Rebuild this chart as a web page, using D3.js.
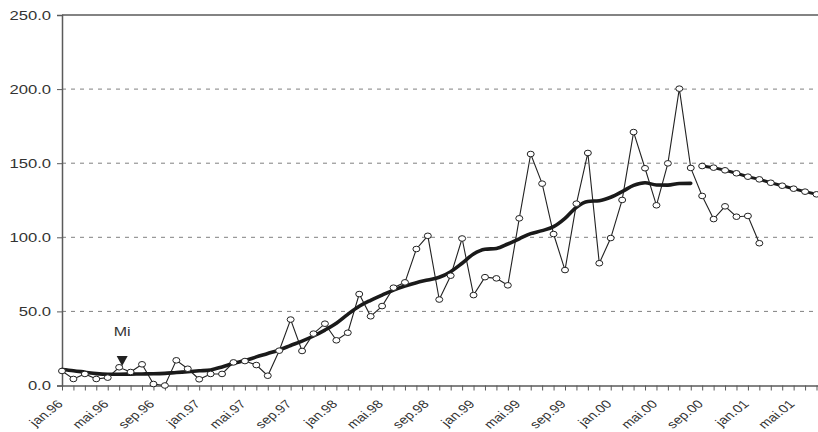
<!DOCTYPE html>
<html>
<head>
<meta charset="utf-8">
<script src="https://cdn.jsdelivr.net/npm/d3@7"></script>
<style>
  html, body { margin: 0; padding: 0; background: #fff; }
  svg { display: block; }
  text { font-family: "Liberation Sans", Arial, sans-serif; fill: #333; }
</style>
</head>
<body>
<svg id="chart" width="818" height="432"></svg>
<script>
// Months (jan.96 .. jul.01)
const months = [
  "jan.96","feb.96","mar.96","apr.96","mai.96","jun.96","jul.96","aug.96","sep.96","okt.96","nov.96","des.96",
  "jan.97","feb.97","mar.97","apr.97","mai.97","jun.97","jul.97","aug.97","sep.97","okt.97","nov.97","des.97",
  "jan.98","feb.98","mar.98","apr.98","mai.98","jun.98","jul.98","aug.98","sep.98","okt.98","nov.98","des.98",
  "jan.99","feb.99","mar.99","apr.99","mai.99","jun.99","jul.99","aug.99","sep.99","okt.99","nov.99","des.99",
  "jan.00","feb.00","mar.00","apr.00","mai.00","jun.00","jul.00","aug.00","sep.00","okt.00","nov.00","des.00",
  "jan.01","feb.01","mar.01","apr.01","mai.01","jun.01","jul.01"
];
const tickLabels = ["jan.96","mai.96","sep.96","jan.97","mai.97","sep.97","jan.98","mai.98","sep.98",
  "jan.99","mai.99","sep.99","jan.00","mai.00","sep.00","jan.01","mai.01"];
const yTicks = [0, 50, 100, 150, 200, 250];

// Monthly observed values (jan.96 .. feb.01)
const observed = [
  9.8, 4.4, 7.8, 4.4, 5.3, 12.3, 9.1, 14.3, 1.0, 0, 17, 11.3,
  4.2, 7.8, 7.8, 15.6, 16.5, 13.8, 6.6, 23.5, 44.5, 23.3, 35, 41.7,
  30.5, 35.6, 61.7, 46.7, 53.6, 66, 69.6, 92.1, 101, 58, 74.1, 99.2,
  61, 73.1, 72.3, 67.6, 112.8, 156.2, 136.2, 102.2, 77.9, 122.7, 156.9, 82.5,
  99.5, 125.2, 171, 146.6, 121.6, 149.9, 200.3, 146.8, 127.9, 112.3, 120.9, 113.9,
  114.4, 96
];
// Smoothed trend (jan.96 .. aug.00)
const trend = [
  10.8, 10, 9, 8, 7.6, 7.6, 7.7, 7.8, 7.9, 8.2, 8.8, 9.3,
  9.9, 10.5, 12.5, 15, 16.8, 19.3, 21.6, 24, 27, 30, 33.4, 37.4,
  42, 48, 53.5, 57.5, 61, 64.4, 67.1, 69.4, 71.2, 73, 76.8, 82.5,
  88.7, 91.9, 92.5, 95.5, 99, 102.5, 104.5, 107.2, 112.8, 120.3, 124.2, 124.7,
  127, 130.8, 135, 136.8, 135.3, 135.2, 136.3, 136.4
];
// Projection (sep.00 .. jul.01)
const projection = [148.1, 147, 145.2, 143.2, 140.9, 139.1, 136.8, 134.8, 132.8, 130.8, 129];
const projectionStart = 56;

const annotationText = "Mi";
const annotationMonth = "jun.96";

const svg = d3.select("#chart");
const plotLeft = 62, plotRight = 816.5, plotTop = 15, plotBottom = 385.5;
const stretch = 1.28;

const x = d3.scalePoint().domain(months).range([plotLeft, plotRight]);
const y = d3.scaleLinear().domain([0, 250]).range([plotBottom, plotTop]);

// gridlines
svg.append("g").selectAll("line")
  .data(yTicks.filter(d => d > 0 && d < 250))
  .join("line")
  .attr("x1", plotLeft).attr("x2", 818)
  .attr("y1", d => y(d)).attr("y2", d => y(d))
  .attr("stroke", "#808080").attr("stroke-width", 1)
  .attr("stroke-dasharray", "4,5");

// top border
svg.append("line").attr("x1", plotLeft).attr("x2", 818)
  .attr("y1", y(250)).attr("y2", y(250))
  .attr("stroke", "#5a5a5a").attr("stroke-width", 1.4);

// y axis
const yAxis = d3.axisLeft(y).tickValues(yTicks).tickFormat(d3.format(".1f")).tickSize(5).tickPadding(6);
const gy = svg.append("g").attr("transform", `translate(${plotLeft},0)`).call(yAxis);
gy.select(".domain").attr("stroke", "#5a5a5a").attr("stroke-width", 1.5);
gy.selectAll(".tick line").attr("stroke", "#5a5a5a");
gy.selectAll(".tick text")
  .style("font-size", "13px").attr("fill", "#333")
  .attr("x", 0)
  .attr("transform", `translate(-11,0) scale(${stretch},1)`);

// x axis
const xAxis = d3.axisBottom(x).tickSize(5).tickFormat(d => tickLabels.includes(d) ? d : "");
const gx = svg.append("g").attr("transform", `translate(0,${plotBottom})`).call(xAxis);
gx.select(".domain").attr("d", `M${plotLeft},0.5H818`).attr("stroke", "#5a5a5a").attr("stroke-width", 1.5);
gx.selectAll(".tick line").attr("stroke", "#5a5a5a");
gx.selectAll(".tick text")
  .style("font-size", "11.5px").attr("fill", "#444")
  .attr("text-anchor", "end")
  .attr("transform", `translate(-6,13.5) scale(${stretch},1) rotate(-45)`)
  .attr("x", 0).attr("y", 0).attr("dy", "0.71em");

// observed line
const obsData = observed.map((v, i) => ({ m: months[i], v }));
svg.append("path").datum(obsData)
  .attr("fill", "none").attr("stroke", "#222").attr("stroke-width", 1.1)
  .attr("d", d3.line().x(d => x(d.m)).y(d => y(d.v)));

// trend line
const trendData = trend.map((v, i) => ({ m: months[i], v }));
svg.append("path").datum(trendData)
  .attr("fill", "none").attr("stroke", "#1a1a1a").attr("stroke-width", 3.6)
  .attr("stroke-linejoin", "round").attr("stroke-linecap", "round")
  .attr("d", d3.line().curve(d3.curveMonotoneX).x(d => x(d.m)).y(d => y(d.v)));

// projection line
const projData = projection.map((v, i) => ({ m: months[projectionStart + i], v }));
svg.append("path").datum(projData)
  .attr("fill", "none").attr("stroke", "#1a1a1a").attr("stroke-width", 3)
  .attr("d", d3.line().x(d => x(d.m)).y(d => y(d.v)));

// markers
svg.append("g").selectAll("ellipse").data(obsData).join("ellipse")
  .attr("cx", d => x(d.m)).attr("cy", d => y(d.v))
  .attr("rx", 3.5).attr("ry", 2.8)
  .attr("fill", "#fff").attr("stroke", "#222").attr("stroke-width", 1);
svg.append("g").selectAll("ellipse").data(projData).join("ellipse")
  .attr("cx", d => x(d.m)).attr("cy", d => y(d.v))
  .attr("rx", 3.5).attr("ry", 2.8)
  .attr("fill", "#fff").attr("stroke", "#222").attr("stroke-width", 1);

// annotation
const ax = x(annotationMonth) + 3;
svg.append("text").attr("x", 0).attr("y", 0)
  .attr("transform", `translate(${ax},336) scale(${stretch},1)`)
  .attr("text-anchor", "middle").style("font-size", "12.5px").text(annotationText);
svg.append("path")
  .attr("d", `M${ax - 5.5},356 L${ax + 5.5},356 L${ax},366 Z`)
  .attr("fill", "#222");
</script>
</body>
</html>
